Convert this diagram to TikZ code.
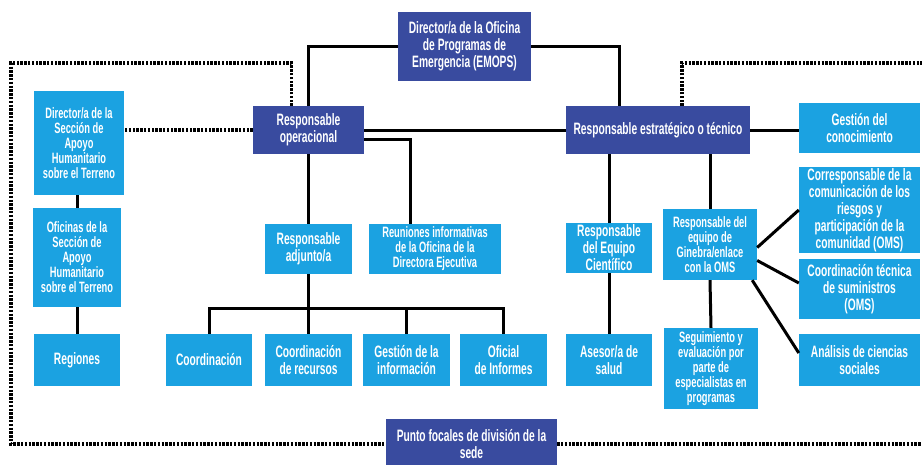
\documentclass[tikz,border=0pt]{standalone}
\usepackage{fontspec}
\setmainfont{Liberation Sans}[FakeStretch=0.62]
\usepackage{tikz}
\usetikzlibrary{positioning, calc}

\definecolor{darkbox}{RGB}{57,75,159}
\definecolor{lightbox}{RGB}{27,162,225}

\begin{document}
\begin{tikzpicture}[
    x=1pt, y=-1pt,
    box/.style={rectangle, inner sep=1pt, align=center, text=white,
        font=\bfseries\fontsize{15}{15}\selectfont},
    darkbx/.style={box, fill=darkbox},
    lightbx/.style={box, fill=lightbox},
    bigtext/.style={font=\bfseries\fontsize{16.5}{17}\selectfont},
    link/.style={draw=black, line width=3pt},
    dotline/.style={draw=black, line width=3.2pt, dash pattern=on 2.4pt off 1.4pt}
]
\useasboundingbox (0,0) rectangle (922,464);

% Top level
\node[darkbx, bigtext, minimum width=133, minimum height=69] (emops) at (464.5, 46.5) {Director/a de la Oficina\\de Programas de\\Emergencia (EMOPS)};
\node[darkbx, bigtext, minimum width=111, minimum height=48] (op) at (308.5, 130) {Responsable\\operacional};
\node[darkbx, bigtext, minimum width=184, minimum height=48] (estr) at (658, 130) {Responsable estratégico o técnico};

% Field support column
\node[lightbx, minimum width=90, minimum height=104] (secdir) at (79, 143) {Director/a de la\\Sección de\\Apoyo\\Humanitario\\sobre el Terreno};
\node[lightbx, minimum width=88, minimum height=99] (ofic) at (77, 257.5) {Oficinas de la\\Sección de\\Apoyo\\Humanitario\\sobre el Terreno};
\node[lightbx, bigtext, minimum width=86, minimum height=52] (reg) at (77, 360) {Regiones};

% Operational branch
\node[lightbx, bigtext, minimum width=87, minimum height=50] (adj) at (308.5, 249) {Responsable\\adjunto/a};
\node[lightbx, minimum width=132, minimum height=50] (reun) at (435, 249) {Reuniones informativas\\de la Oficina de la\\Directora Ejecutiva};
\node[lightbx, bigtext, minimum width=86, minimum height=52] (coord) at (209, 360) {Coordinación};
\node[lightbx, bigtext, minimum width=87, minimum height=52] (recurs) at (308.5, 360) {Coordinación\\de recursos};
\node[lightbx, bigtext, minimum width=87, minimum height=52] (inf) at (406.5, 360) {Gestión de la\\información};
\node[lightbx, bigtext, minimum width=87, minimum height=52] (ofi) at (503.5, 360) {Oficial\\de Informes};

% Strategic branch
\node[lightbx, bigtext, minimum width=86, minimum height=50] (sci) at (609, 248) {Responsable\\del Equipo\\Científico};
\node[lightbx, bigtext, minimum width=86, minimum height=52] (ases) at (609, 360) {Asesor/a de\\salud};
\node[lightbx, minimum width=94, minimum height=71] (gin) at (710, 244.5) {Responsable del\\equipo de\\Ginebra/enlace\\con la OMS};
\node[lightbx, minimum width=94, minimum height=81] (seg) at (711, 368.5) {Seguimiento y\\evaluación por\\parte de\\especialistas en\\programas};

% Right column
\node[lightbx, bigtext, minimum width=121, minimum height=50] (know) at (859.5, 128) {Gestión del\\conocimiento};
\node[lightbx, bigtext, minimum width=121, minimum height=86] (corr) at (859.5, 210) {Corresponsable de la\\comunicación de los\\riesgos y\\participación de la\\comunidad (OMS)};
\node[lightbx, bigtext, minimum width=121, minimum height=60] (sup) at (859.5, 289) {Coordinación técnica\\de suministros\\(OMS)};
\node[lightbx, bigtext, minimum width=121, minimum height=52] (soc) at (859.5, 360) {Análisis de ciencias\\sociales};

% Focal points
\node[darkbx, bigtext, minimum width=171, minimum height=50] (punto) at (471.5, 444) {Punto focales de división de la\\sede};

\coordinate (bus) at (309, 308);
\coordinate (fl) at (11, 63);
\coordinate (fr) at (922, 63);

% Director to the two leads
\draw[link] (emops.west) -| (op.north);
\draw[link] (emops.east) -| ([xshift=-39pt]estr.north);
\draw[link] (op.east) -- (estr.west);

% Operational lead
\draw[link] (op.south) -- (adj.north);
\draw[link] ([yshift=-9pt]op.east) -| ([xshift=-25pt]reun.north);
\draw[link] (adj.south) -- (recurs.north);
\draw[link] (coord.north) |- (bus) -| (ofi.north);
\draw[link] (inf.north) -- (inf.north |- bus);

% Strategic lead
\draw[link] (estr.east) -- (estr.east -| know.west);
\draw[link] (sci.north) -- (sci.north |- estr.south);
\draw[link] (sci.south) -- (ases.north);
\draw[link] (gin.north) -- (gin.north |- estr.south);
\draw[link] (gin.south) -- (seg.north);
\draw[link] ([yshift=-3pt]gin.east) -- (corr.west);
\draw[link] ([yshift=-16pt]gin.east) -- ([yshift=6pt]sup.west);
\draw[link] ([xshift=-5pt]gin.south east) -- ([yshift=7pt]soc.west);

% Field support column
\draw[link] (ofic.north) -- (ofic.north |- secdir.south);
\draw[link] (ofic.south) -- (reg.north);

% Dotted links
\draw[dotline] (op.west) -- (op.west -| secdir.east);
\draw[dotline] ([xshift=-17pt]op.north) |- (fl) |- (punto.west);
\draw[dotline] ([xshift=24pt]estr.north) |- (fr);
\draw[dotline] (punto.east) -- (punto.east -| fr);

\end{tikzpicture}
\end{document}
